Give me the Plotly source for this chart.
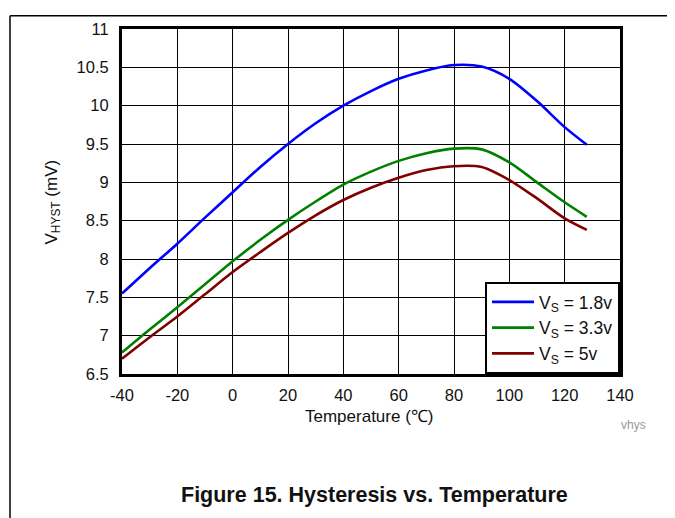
import plotly.graph_objects as go

# --- Data ---
temps = [-40, -30, -20, -10, 0, 10, 20, 30, 40, 50, 60, 70, 80, 90, 100, 110, 120, 128]
vhyst_18 = [7.55, 7.88, 8.20, 8.54, 8.87, 9.20, 9.50, 9.77, 10.00, 10.19, 10.35, 10.46,
            10.53, 10.51, 10.35, 10.06, 9.72, 9.49]
vhyst_33 = [6.78, 7.08, 7.37, 7.67, 7.97, 8.25, 8.51, 8.75, 8.97, 9.14, 9.28, 9.38,
            9.44, 9.43, 9.26, 9.00, 8.74, 8.55]
vhyst_5 = [6.70, 6.98, 7.25, 7.54, 7.83, 8.09, 8.34, 8.57, 8.77, 8.93, 9.06, 9.16,
           9.21, 9.20, 9.03, 8.79, 8.53, 8.38]

series_names = ["V<sub>S</sub> = 1.8v", "V<sub>S</sub> = 3.3v", "V<sub>S</sub> = 5v"]
series_colors = ["#0000FF", "#008000", "#800000"]
x_ticks = [-40, -20, 0, 20, 40, 60, 80, 100, 120, 140]
x_tick_text = ["-40", "-20", "0", "20", "40", "60", "80", "100", "120", "140"]
y_ticks = [6.5, 7, 7.5, 8, 8.5, 9, 9.5, 10, 10.5, 11]

FONT = "Liberation Sans, Arial, sans-serif"

# the html page puts an 8px body margin round the plot, so everything is
# laid out in page pixels and shifted back by that offset
OFF = 8
PL, PR, PT, PB = 122, 620, 22, 374   # plot area in page pixels


def px(x):
    return (x - PL) / (PR - PL)


def py(y):
    return (PB - y) / (PB - PT)


fig = go.Figure()
for ys, name, col in zip([vhyst_18, vhyst_33, vhyst_5], series_names, series_colors):
    fig.add_trace(go.Scatter(
        x=temps, y=ys, name=name, mode="lines",
        line=dict(color=col, width=2.6, shape="spline", smoothing=0.8),
    ))

axis_common = dict(
    showgrid=True, gridcolor="#000000", gridwidth=1,
    showline=True, linecolor="#000000", linewidth=3, mirror=True,
    zeroline=False, ticks="",
    tickfont=dict(family=FONT, size=16.5, color="#111111"),
)

fig.update_xaxes(range=[-40, 140], tickvals=x_ticks, ticktext=x_tick_text,
                 ticklabelstandoff=4, **axis_common)
fig.update_yaxes(range=[6.5, 11], tickvals=y_ticks, ticklabelstandoff=7, **axis_common)

fig.update_layout(
    width=675 - OFF, height=518 - OFF,
    margin=dict(l=PL - OFF, r=675 - PR, t=PT - OFF, b=518 - PB),
    plot_bgcolor="white", paper_bgcolor="white",
    font=dict(family=FONT, color="#111111"),
    showlegend=True,
    legend=dict(
        x=1, y=0, xanchor="right", yanchor="bottom",
        bgcolor="white", bordercolor="#000000", borderwidth=2,
        font=dict(family=FONT, size=17.5, color="#111111"),
        tracegroupgap=0, itemwidth=42,
    ),
    annotations=[
        dict(text="V<sub>HYST</sub> (mV)", textangle=-90, x=px(53), y=py(199),
             xref="paper", yref="paper", showarrow=False, xanchor="center", yanchor="middle",
             font=dict(family=FONT, size=17, color="#111111")),
        dict(text="Temperature (\u2103)", x=px(369), y=py(417),
             xref="paper", yref="paper", showarrow=False, xanchor="center", yanchor="middle",
             font=dict(family=FONT, size=17, color="#111111")),
        dict(text="vhys", x=px(633), y=py(426),
             xref="paper", yref="paper", showarrow=False, xanchor="center", yanchor="middle",
             font=dict(family=FONT, size=12, color="#999999")),
        dict(text="<b>Figure 15. Hysteresis vs. Temperature</b>", x=px(374), y=py(497),
             xref="paper", yref="paper", showarrow=False, xanchor="center", yanchor="middle",
             font=dict(family=FONT, size=21.5, color="#111111")),
    ],
    shapes=[
        # page frame: left and top rules
        dict(type="line", xref="paper", yref="paper", x0=px(10), x1=px(10),
             y0=py(8.6), y1=py(530), line=dict(color="#000000", width=1.5)),
        dict(type="line", xref="paper", yref="paper", x0=px(10), x1=px(690),
             y0=py(8.6), y1=py(8.6), line=dict(color="#000000", width=1.5)),
    ],
)

fig.write_html("out.html")
